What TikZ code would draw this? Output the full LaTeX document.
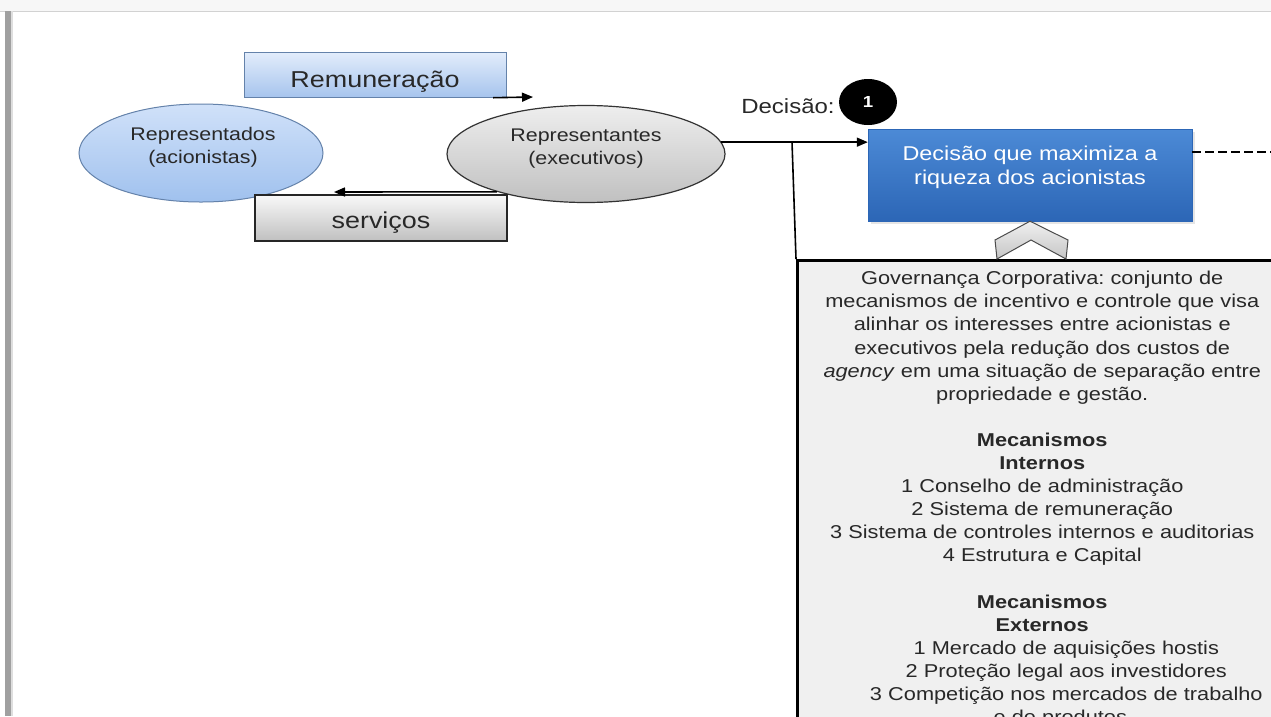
\documentclass[tikz,border=0pt]{standalone}
\usepackage{fontspec}
\setmainfont{Liberation Sans}[FakeStretch=1.17]
\frenchspacing
\usetikzlibrary{positioning,shapes.geometric,arrows.meta,shadows}

\definecolor{textocinza}{RGB}{40,40,40}
\definecolor{azulA}{RGB}{226,236,251}
\definecolor{azulB}{RGB}{166,196,237}
\definecolor{azulborda}{RGB}{100,130,170}
\definecolor{elazulA}{RGB}{208,225,249}
\definecolor{elazulB}{RGB}{160,193,238}
\definecolor{cinzaA}{RGB}{238,238,238}
\definecolor{cinzaB}{RGB}{192,192,192}
\definecolor{decA}{RGB}{76,138,214}
\definecolor{decB}{RGB}{44,102,182}
\definecolor{govfundo}{RGB}{240,240,240}
\definecolor{barra}{RGB}{160,160,160}

\begin{document}
\begin{tikzpicture}[x=1pt, y=-1pt,
  seta/.style={line width=1.6pt, -{Triangle[length=11pt,width=9pt]}},
  caixa/.style={rectangle, minimum width=262pt, minimum height=45pt, text depth=0pt,
    font=\fontsize{23}{27}\selectfont, text=textocinza},
  elipse/.style={ellipse, minimum width=278pt, minimum height=97pt},
  elitexto/.style={align=center, text=textocinza, font=\fontsize{18.3}{23}\selectfont}]

  % moldura da pagina
  \useasboundingbox (0,0) rectangle (1271,716);
  \clip (0,0) rectangle (1271,716);
  \fill[white] (0,0) rectangle (1271,716);
  \fill[gray!6] (0,0) rectangle (1271,11);
  \draw[gray!35, line width=1pt] (0,11) -- (1271,11);
  \fill[barra] (5,11) rectangle (11,716);
  \fill[barra!35] (11,11) rectangle (13,716);

  % representados e representantes
  \node[caixa, text height=25pt, draw=azulborda, top color=azulA, bottom color=azulB]
    (rem) at (375,75) {Remuneração};
  \node[elipse, minimum width=244pt, minimum height=98pt, draw=azulborda, line width=1pt,
    top color=elazulA, bottom color=elazulB] (rpdos) at (201,153) {};
  \node[elitexto] (rpdostxt) at (203,147) {Representados\\(acionistas)};
  \node[elipse, draw=black!80, line width=1.2pt, top color=cinzaA, bottom color=cinzaB]
    (rptes) at (586,154) {};
  \node[elitexto] (rptestxt) at (586,149) {Representantes\\(executivos)};
  \node[caixa, text height=20pt, minimum width=252pt, minimum height=46pt, draw=black!85,
    line width=1.3pt, top color=gray!5, bottom color=cinzaB] (serv) at (381,218) {serviços};

  \coordinate (remfim) at (533,97);
  \coordinate (servfim) at (334,192);
  \draw[seta] ([xshift=-13pt]rem.south east) -- (remfim);
  \draw[seta] (rptes.203) -- (servfim);

  % governanca corporativa
  \node[rectangle, anchor=north west, draw=black, line width=2.5pt, fill=govfundo,
    text width=480pt, inner xsep=5pt, inner ysep=11pt, align=center,
    font=\fontsize{18.6}{23.1}\selectfont, text=textocinza] (gov) at (796,259)
    {Governança Corporativa: conjunto de\\
     mecanismos de incentivo e controle que visa\\
     alinhar os interesses entre acionistas e\\
     executivos pela redução dos custos de\\
     \textit{agency} em uma situação de separação entre\\
     propriedade e gestão.\\[23.1pt]
     \textbf{Mecanismos}\\
     \textbf{Internos}\\
     1 Conselho de administração\\
     2 Sistema de remuneração\\
     3 Sistema de controles internos e auditorias\\
     4 Estrutura e Capital\\[23.1pt]
     \textbf{Mecanismos}\\
     \textbf{Externos}\\
     \hspace*{48pt}1 Mercado de aquisições hostis\\
     \hspace*{48pt}2 Proteção legal aos investidores\\
     \hspace*{48pt}3 Competição nos mercados de trabalho\\
     \hspace*{36pt}e de produtos};

  % decisao
  \node[rectangle, minimum width=324pt, minimum height=92pt, draw=decB,
    top color=decA, bottom color=decB,
    drop shadow={opacity=0.2, shadow xshift=3pt, shadow yshift=-3pt}] (dec) at (1030,175) {};
  \node[align=center, text=white, font=\fontsize{20}{24}\selectfont]
    (dectxt) at (1030,167) {Decisão que maximiza a\\riqueza dos acionistas};

  \node[ellipse, fill=black, minimum width=58pt, minimum height=46pt, inner sep=0pt,
    text=white, font=\bfseries\fontsize{16}{16}\selectfont] (num) at (868,102) {1};
  \node[left=4pt of num, yshift=-4pt, inner sep=0pt, text=textocinza,
    font=\fontsize{20.5}{24}\selectfont] (declab) {Decisão:};

  \coordinate (ramo) at (792,142);
  \draw[seta] (rptes.5) -- (rptes.5 -| dec.west);
  \draw[line width=1.6pt] (ramo) -- (gov.north west);

  \coordinate (tracfim) at (1271,152);
  \draw[line width=1.2pt, dash pattern=on 9pt off 4pt] (dec.east |- tracfim) -- (tracfim);

  % seta dupla para cima
  \draw[draw=black!70, line width=1pt, top color=gray!12, bottom color=gray!45]
    (997,259) -- (995,240) -- (dec.south) -- (1068,240) -- (1066,259) -- (1031,240) -- cycle;

\end{tikzpicture}
\end{document}
